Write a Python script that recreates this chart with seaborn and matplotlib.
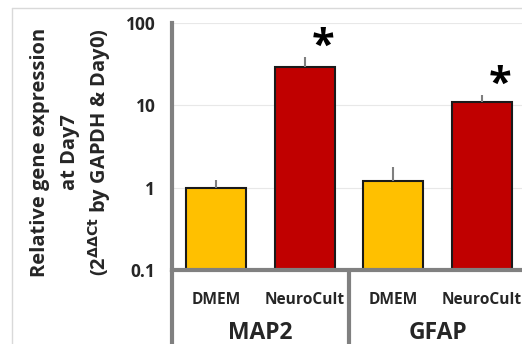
import matplotlib
matplotlib.use('Agg')
import matplotlib.pyplot as plt
from matplotlib.lines import Line2D
import seaborn as sns
import numpy as np
import pandas as pd

# data
genes = ['MAP2', 'MAP2', 'GFAP', 'GFAP']
media = ['DMEM', 'NeuroCult', 'DMEM', 'NeuroCult']
means = [1.0, 29.0, 1.22, 10.9]
upper = [1.25, 38.5, 1.8, 13.2]
significant = [False, True, False, True]
yticks = [0.1, 1, 10, 100]
ytick_labels = ['0.1', '1', '10', '100']
ylabel_lines = ['Relative gene expression', 'at Day7',
                '(2$^{\\mathbf{\\Delta\\Delta Ct}}$ by GAPDH & Day0)']

sns.set_theme(style='white')
plt.rcParams['font.family'] = ['Open Sans', 'DejaVu Sans']
plt.rcParams['mathtext.fontset'] = 'dejavusans'

df = pd.DataFrame({
    'bar': [f'{g} {m}' for g, m in zip(genes, media)],
    'medium': media,
    'value': means,
})

fig = plt.figure(figsize=(5.22, 3.44), dpi=100)
ax = fig.add_axes([172 / 522, 74 / 344, 354 / 522, 247 / 344])
ax.set_yscale('log')

sns.barplot(data=df, x='bar', y='value', hue='medium',
            palette={'DMEM': '#FFC000', 'NeuroCult': '#C00000'},
            saturation=1, dodge=False, width=0.68, edgecolor='#1a1a1a',
            linewidth=1.5, legend=False, ax=ax)

x = np.arange(len(means))
yerr = [np.zeros(len(means)), np.array(upper) - np.array(means)]
ax.errorbar(x, means, yerr=yerr, fmt='none', ecolor='#7f7f7f',
            elinewidth=1.5, capsize=0, zorder=1)

for i in x:
    if significant[i]:
        ax.annotate('*', xy=(i, upper[i]), xytext=(18, 10),
                    textcoords='offset pixels', ha='center', va='center',
                    fontsize=30, fontweight='bold', color='black')

ax.set_ylim(0.1, 100)
ax.set_xlim(-0.5, 3.5)
ax.set_yticks(yticks)
ax.set_yticklabels(ytick_labels, fontsize=12.5, fontweight='bold', color='#262626')
ax.minorticks_off()
ax.set_xticks(x)
ax.set_xticklabels(media, fontsize=11.2, fontweight='bold', color='#262626')
ax.tick_params(axis='y', length=0, pad=12)
ax.tick_params(axis='x', length=0, pad=15.5)
ax.set_xlabel('')
ax.set_ylabel('')

ax.yaxis.grid(True, color='#e8e8e8', lw=0.8)
ax.set_axisbelow(True)
for s in ['top', 'right']:
    ax.spines[s].set_visible(False)
for s in ['left', 'bottom']:
    ax.spines[s].set_color('#808080')
    ax.spines[s].set_linewidth(3)

# group separators and gene labels below the axis
trans = ax.get_xaxis_transform()
for xs in [-0.5, 1.5, 3.5]:
    ax.plot([xs, xs], [0, -0.35], transform=trans, color='#808080',
            lw=3, clip_on=False, solid_capstyle='butt')
for pos, g in [(0.5, 'MAP2'), (2.5, 'GFAP')]:
    ax.text(pos, -0.278, g, transform=trans, ha='center', va='baseline',
            fontsize=16.5, fontweight='bold', color='#262626')

# y label, one text per line, anchored on the baseline
for line, bx in zip(ylabel_lines, [45, 75, 106]):
    fig.text(bx / 522, 1 - 152 / 344, line, rotation=90, rotation_mode='anchor',
             ha='center', va='baseline', fontsize=14.5, fontweight='bold',
             color='#262626')

# light chart-area frame
fig.add_artist(Line2D([12 / 522, 12 / 522], [0, 1 - 8 / 344], color='#d9d9d9', lw=1))
fig.add_artist(Line2D([12 / 522, 1], [1 - 8 / 344, 1 - 8 / 344], color='#d9d9d9', lw=1))

fig.savefig('out.png', dpi=100, facecolor='white')
plt.close(fig)
